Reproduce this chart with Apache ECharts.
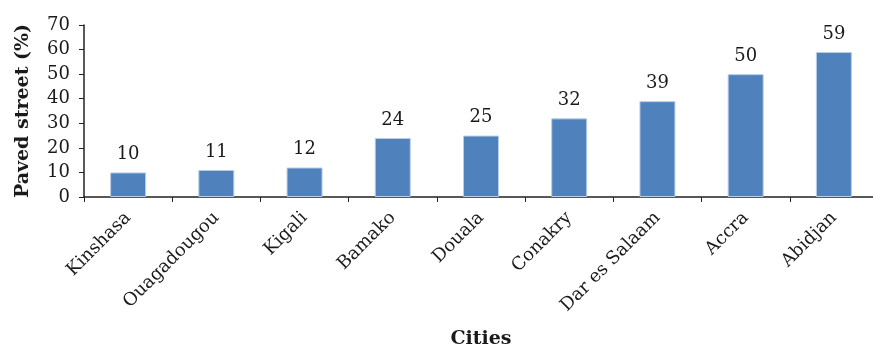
<!DOCTYPE html>
<html>
<head>
<meta charset="utf-8">
<script src="https://cdn.jsdelivr.net/npm/echarts@6/dist/echarts.min.js"></script>
<style>
  html, body { margin: 0; padding: 0; background: #fff; }
  #chart { width: 873px; height: 350px; }
</style>
</head>
<body>
<div id="chart"></div>
<script>
// cities and paved street share
const cities = ['Kinshasa', 'Ouagadougou', 'Kigali', 'Bamako', 'Douala', 'Conakry', 'Dar es Salaam', 'Accra', 'Abidjan']
const paved = [10, 11, 12, 24, 25, 32, 39, 50, 59]
const yTicks = [0, 10, 20, 30, 40, 50, 60, 70]

const font = 'DejaVu Serif'
const myChart = echarts.init(document.getElementById('chart'))
myChart.setOption({
  animation: false,
  grid: {
    left: 84,
    top: 25,
    width: 794,
    height: 172,
    containLabel: false,
    outerBoundsMode: 'none'
  },
  xAxis: {
    type: 'category',
    data: cities,
    name: 'Cities',
    nameLocation: 'middle',
    nameGap: 133,
    nameTextStyle: { fontFamily: font, fontWeight: 'bold', fontSize: 19, color: '#1a1a1a' },
    axisLine: { lineStyle: { color: '#222', width: 1.5 } },
    axisTick: { show: true, length: 5, lineStyle: { color: '#222' } },
    axisLabel: {
      rotate: 45,
      interval: 0,
      margin: 18,
      fontFamily: font,
      fontSize: 18,
      color: '#1a1a1a'
    }
  },
  yAxis: {
    type: 'value',
    min: yTicks[0],
    max: yTicks[yTicks.length - 1],
    interval: 10,
    name: 'Paved street (%)',
    nameLocation: 'middle',
    nameGap: 51,
    nameTextStyle: { fontFamily: font, fontWeight: 'bold', fontSize: 19, color: '#1a1a1a' },
    splitLine: { show: false },
    axisLine: { show: true, lineStyle: { color: '#222', width: 1.5 } },
    axisTick: { show: true, length: 5, lineStyle: { color: '#222' } },
    axisLabel: { fontFamily: font, fontSize: 18, color: '#1a1a1a', margin: 14 }
  },
  series: [{
    type: 'bar',
    data: paved,
    barWidth: 36,
    itemStyle: { color: '#4f81bd', borderColor: '#b9cde5', borderWidth: 1 },
    label: {
      show: true,
      position: 'top',
      distance: 9,
      fontFamily: font,
      fontSize: 18,
      color: '#1a1a1a'
    }
  }]
})
</script>
</body>
</html>
